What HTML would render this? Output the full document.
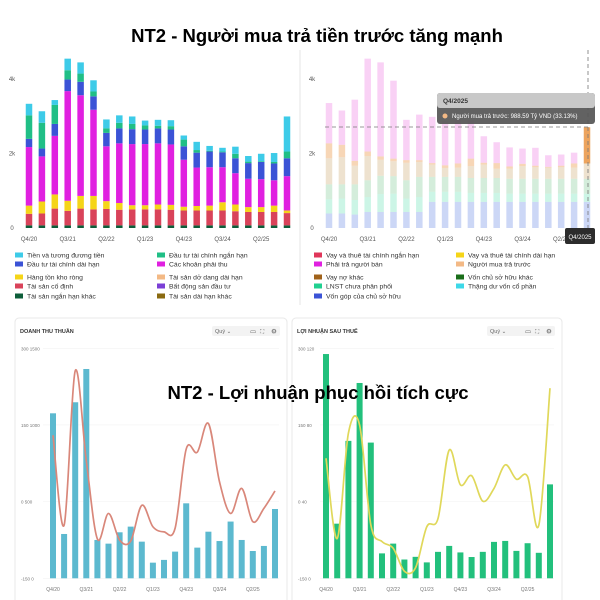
<!DOCTYPE html>
<html><head><meta charset="utf-8">
<style>
html,body{margin:0;padding:0;background:#fff;}
svg{display:block;font-family:"Liberation Sans","DejaVu Sans",sans-serif;}
.t{font-size:6px;fill:#555;}
.lg{font-size:6.8px;fill:#333;}
.ttl{font-size:18.5px;font-weight:bold;fill:#000;font-family:"Liberation Sans","DejaVu Sans",sans-serif;}
</style></head>
<body>
<svg id="s" width="600" height="600" viewBox="0 0 600 600">
  <rect x="0" y="0" width="600" height="600" fill="#fff"/>
  <line x1="300" y1="50" x2="300" y2="305" stroke="#e6e6e6"/>
  <g id="tl"></g>
  <g id="tr"></g>
  <rect x="15" y="318" width="272" height="290" rx="4" fill="#fff" stroke="#e8e8e8"/>
  <rect x="292" y="318" width="270" height="290" rx="4" fill="#fff" stroke="#e8e8e8"/>
  <g id="bl"></g>
  <g id="br"></g>
  <text class="ttl" x="317" y="42" text-anchor="middle">NT2 - Người mua trả tiền trước tăng mạnh</text>
  <text class="ttl" x="318" y="399" text-anchor="middle">NT2 - Lợi nhuận phục hồi tích cực</text>
</svg>
<script>
const categories=["Q4/20","Q1/21","Q2/21","Q3/21","Q4/21","Q1/22","Q2/22","Q3/22","Q4/22","Q1/23","Q2/23","Q3/23","Q4/23","Q1/24","Q2/24","Q3/24","Q4/24","Q1/25","Q2/25","Q3/25","Q4/25"];
// top-left (thousand bn VND)
const aDarkGreen=[0.07,0.07,0.07,0.07,0.07,0.07,0.07,0.07,0.07,0.07,0.07,0.07,0.07,0.07,0.07,0.07,0.07,0.07,0.07,0.07,0.07];
const aRed=[0.31,0.32,0.45,0.39,0.45,0.43,0.44,0.42,0.43,0.43,0.43,0.42,0.40,0.40,0.40,0.40,0.38,0.36,0.36,0.36,0.33];
const aYellow=[0.22,0.32,0.38,0.27,0.34,0.36,0.21,0.18,0.11,0.11,0.13,0.13,0.10,0.12,0.13,0.22,0.18,0.13,0.13,0.17,0.07];
const aMagenta=[1.57,1.21,1.57,2.94,2.70,2.31,1.47,1.60,1.64,1.64,1.64,1.62,1.26,1.03,1.03,0.94,0.84,0.76,0.75,0.68,0.92];
const aBlue=[0.22,0.21,0.32,0.31,0.36,0.36,0.36,0.40,0.40,0.39,0.40,0.40,0.36,0.40,0.42,0.40,0.40,0.42,0.46,0.45,0.48];
const aGreen=[0.63,0.69,0.51,0.25,0.22,0.13,0.12,0.15,0.14,0.11,0.07,0.09,0.18,0.07,0.02,0.02,0.12,0.04,0.02,0.04,0.18];
const aCyan=[0.31,0.31,0.13,0.31,0.30,0.30,0.24,0.20,0.20,0.13,0.16,0.16,0.11,0.22,0.13,0.10,0.19,0.15,0.20,0.24,0.94];
// top-right
const lBlue=[0.39,0.39,0.36,0.43,0.43,0.43,0.43,0.43,0.70,0.70,0.70,0.70,0.70,0.70,0.70,0.70,0.70,0.70,0.70,0.70,0.70];
const lMint=[0.38,0.40,0.39,0.40,0.48,0.49,0.36,0.40,0.27,0.27,0.27,0.24,0.24,0.24,0.22,0.22,0.22,0.22,0.22,0.22,0.22];
const lGreen=[0.40,0.38,0.42,0.45,0.49,0.47,0.49,0.54,0.40,0.40,0.40,0.40,0.40,0.40,0.40,0.40,0.40,0.40,0.40,0.40,0.40];
const lTan=[0.70,0.73,0.50,0.65,0.43,0.40,0.47,0.40,0.33,0.24,0.25,0.32,0.36,0.25,0.27,0.34,0.31,0.30,0.31,0.30,0.41];
const lOrange=[0.40,0.33,0.13,0.12,0.09,0.07,0.07,0.05,0.04,0.07,0.11,0.20,0.05,0.15,0.06,0.06,0.04,0.02,0.04,0.11,0.97];
const lPink=[1.08,0.92,1.64,2.49,2.52,2.09,1.08,1.22,1.24,1.19,1.17,1.03,0.71,0.56,0.51,0.41,0.48,0.31,0.30,0.29,0];
const topTicks=["0","2k","4k"];
// bottom-left
const revenue=[1076,289,1148,1365,250,226,300,337,239,102,120,174,489,200,304,243,370,250,178,211,452];
const revLine=[130,-46,256,80,-73,-23,-75,-77,-7,-49,-59,-52,103,97,153,39,-23,26,-39,-13,21];
const revTicks=["-150  0","0  500","150  1000","300  1500"];
// bottom-right
const profit=[117,28.5,71.7,101.9,70.8,13,18.1,9.8,11.2,8.3,13.8,16.9,13.5,11.1,13.8,19,19.5,14.3,18.3,13.3,49];
const profLine=[85,-72,134,150,-45,-78,-91,-136,-129,-49,-33,101,33,51,1,26,72,44,49,-46,222];
const profTicks=["-150  0","0  40","150  80","300  120"];

const NS="http://www.w3.org/2000/svg";
function mk(p,tag,attrs,txt){const e=document.createElementNS(NS,tag);for(const k in attrs)e.setAttribute(k,attrs[k]);if(txt!==undefined)e.textContent=txt;p.appendChild(e);return e;}

function stacked(gid,ox,series,colors,names,fade){
  const g=document.getElementById(gid);
  const x=i=>ox+29+i*12.9, y=v=>228-v*37.3;
  topTicks.forEach((t,k)=>{const tx=mk(g,'text',{class:'t',x:ox+12,y:y(k*2)+2,'text-anchor':'middle'},t);
    
    });
  categories.forEach((c,i)=>{
    let acc=0;
    series.forEach((s,si)=>{
      const v=s[i]; if(v<=0)return;
      let op=1; if(fade){op=(i===20&&si===4)?1:0.45;}
      const r=mk(g,'rect',{x:x(i)-3.25,y:y(acc+v),width:6.5,height:y(acc)-y(acc+v),fill:colors[si],opacity:op});
      
      
      acc+=v;
    });
    if(i%3===0){const tx=mk(g,'text',{class:'t',x:x(i),y:241,'text-anchor':'middle'},c);
      
      }
  });
}
stacked('tl',0,[aDarkGreen,aRed,aYellow,aMagenta,aBlue,aGreen,aCyan],['#0d5e3a','#d9435a','#f5d518','#e020e0','#3b53d6','#20bf86','#3dcbe8'],['short-other','fixed-assets','inventory','receivables','lt-invest','st-invest','cash'],false);
stacked('tr',300,[lBlue,lMint,lGreen,lTan,lOrange,lPink],['#8fa6ec','#8fe8c8','#9fd6b0','#d9bf94','#eda45e','#f29ae9'],['capital','share-premium','retained','other-equity','advances','payables'],true);

(function(){const g=document.getElementById('tr');
  let e=mk(g,'line',{x1:325,y1:127,x2:588,y2:127,stroke:'#777','stroke-dasharray':'4,3','stroke-width':0.8});
  
  e=mk(g,'line',{x1:588,y1:50,x2:588,y2:228,stroke:'#777','stroke-dasharray':'4,3','stroke-width':0.8});
  
  e=mk(g,'rect',{x:437,y:93,width:158,height:31,rx:3,fill:'#555',opacity:0.92});
  
  mk(g,'rect',{x:437,y:93,width:158,height:15,rx:3,fill:'#c8c8c8'});
  mk(g,'text',{x:443,y:103,'font-size':6.5,'font-weight':'bold',fill:'#333'},'Q4/2025');
  mk(g,'circle',{cx:445,cy:116,r:2.5,fill:'#f3b985'});
  mk(g,'text',{x:452,y:118,'font-size':6,fill:'#fff'},'Người mua trả trước: 988.59 Tỷ VND (33.13%)');
  e=mk(g,'rect',{x:565,y:228,width:30,height:16,rx:2,fill:'#2c2c2c'});
  
  mk(g,'text',{x:580,y:239,'font-size':6,fill:'#fff','text-anchor':'middle'},'Q4/2025');
})();

function legend(items,ox){const s=document.getElementById('s');
  const ys=[256,265,278,287,297];
  items.forEach((it,k)=>{const row=Math.floor(k/2),col=k%2;const x=ox+(col?142:0);const yy=ys[row];
    const r=mk(s,'rect',{x:x,y:yy-3.5,width:8,height:5,fill:it[1]});
    
    const t=mk(s,'text',{class:'lg',x:x+12,y:yy+1.5},it[0]);
    
  });}
legend([["Tiền và tương đương tiền","#3dcbe8"],["Đầu tư tài chính ngắn hạn","#20bf86"],["Đầu tư tài chính dài hạn","#3b53d6"],["Các khoản phải thu","#e020e0"],["Hàng tồn kho ròng","#f5d518"],["Tài sản dở dang dài hạn","#f3b985"],["Tài sản cố định","#d9435a"],["Bất động sản đầu tư","#7b3fd6"],["Tài sản ngắn hạn khác","#0d5e3a"],["Tài sản dài hạn khác","#8a6a10"]],15);
legend([["Vay và thuê tài chính ngắn hạn","#e0365a"],["Vay và thuê tài chính dài hạn","#f5d518"],["Phải trả người bán","#e020e0"],["Người mua trả trước","#f3b985"],["Vay nợ khác","#a0621a"],["Vốn chủ sở hữu khác","#1a6e1a"],["LNST chưa phân phối","#20d090"],["Thặng dư vốn cổ phần","#3dd8e8"],["Vốn góp của chủ sở hữu","#3b53d6"]],314);

function smooth(pts){let d='M'+pts[0][0]+','+pts[0][1];
  for(let i=0;i<pts.length-1;i++){const p0=pts[i-1]||pts[i],p1=pts[i],p2=pts[i+1],p3=pts[i+2]||p2;
    const c1=[p1[0]+(p2[0]-p0[0])/6,p1[1]+(p2[1]-p0[1])/6],c2=[p2[0]-(p3[0]-p1[0])/6,p2[1]-(p3[1]-p1[1])/6];
    d+=' C'+c1[0]+','+c1[1]+' '+c2[0]+','+c2[1]+' '+p2[0]+','+p2[1];}
  return d;}

function combo(gid,cx,x0,step,bars,line,rMax,ticks,barColor,lineColor,title,cardRight){
  const g=document.getElementById(gid);
  const x=i=>x0+i*step;
  const yR=v=>578.3-v*(76.67/(rMax/3));
  const yL=v=>501.7-v*(76.67/150);
  let t=mk(g,'text',{x:cx+5,y:333,'font-size':5.5,'font-weight':'bold',fill:'#333'},title);
  
  const c=mk(g,'rect',{x:cardRight-75,y:326,width:68,height:10,rx:2,fill:'#f3f3f3'});
  
  t=mk(g,'text',{x:cardRight-72,y:333,'font-size':5.5,fill:'#666'},'Quý ⌄');
  
  t=mk(g,'text',{x:cardRight-37,y:333.5,'font-size':6.5,fill:'#666'},'▭');
  
  t=mk(g,'text',{x:cardRight-27,y:333.5,'font-size':6,fill:'#666'},'⛶');
  
  t=mk(g,'text',{x:cardRight-16,y:333.5,'font-size':6.5,fill:'#555'},'⚙');
  
  ticks.forEach((tk,k)=>{const yy=578.3-k*76.67;
    mk(g,'line',{x1:cx+28,y1:yy,x2:cardRight-8,y2:yy,stroke:'#f2f2f2','stroke-width':0.6});
    const tt=mk(g,'text',{x:cx+6,y:yy+2,'font-size':4.5,fill:'#777'},tk);
    });
  bars.forEach((v,i)=>{const r=mk(g,'rect',{x:x(i)-3,y:yR(v),width:6,height:578.3-yR(v),fill:barColor});
    
    
    if(i%3===0){const tx=mk(g,'text',{x:x(i),y:591,'font-size':5,fill:'#777','text-anchor':'middle'},categories[i]);
      }
  });
  const p=mk(g,'path',{d:smooth(line.map((v,i)=>[x(i),yL(v)])),fill:'none',stroke:lineColor,'stroke-width':1.7});
  
  
}
combo('bl',15,53,11.1,revenue,revLine,1500,revTicks,'#5cb9cf','#d9877a','DOANH THU THUẦN',287);
combo('br',292,326,11.2,profit,profLine,120,profTicks,'#22c07c','#e0d85a','LỢI NHUẬN SAU THUẾ',562);
</script>
</body></html>
